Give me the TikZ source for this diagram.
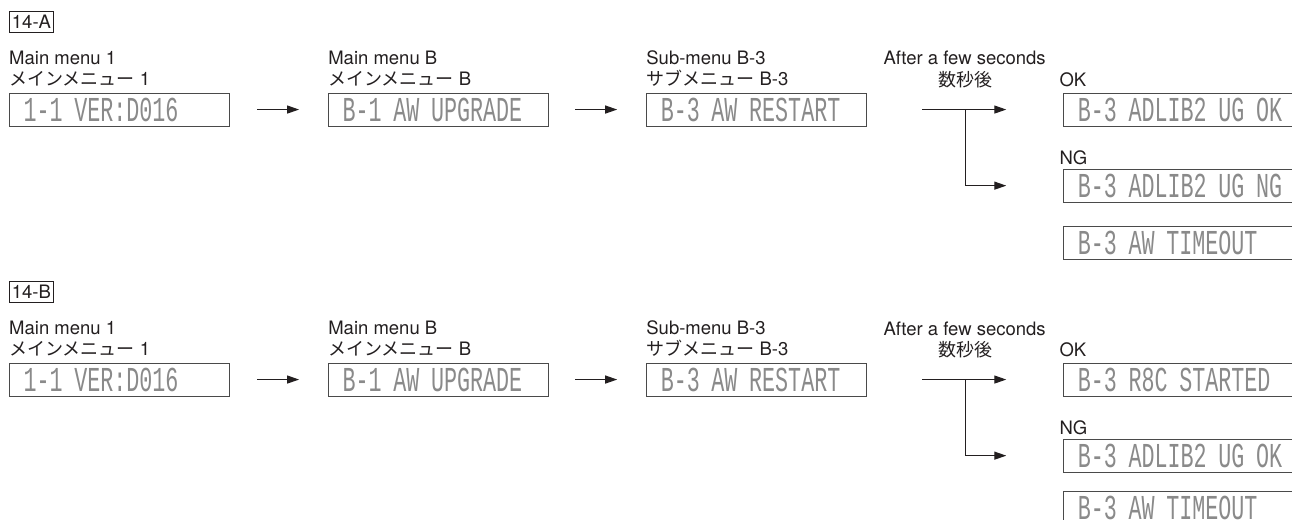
\documentclass[tikz,border=0pt]{standalone}
\usepackage{fontspec}
\setmainfont{TeX Gyre Heros}
\newfontfamily\jpfont{Noto Sans CJK JP}
\newfontfamily\lcdfont[FakeStretch=0.62]{Liberation Mono}
\usetikzlibrary{arrows.meta,positioning}
\definecolor{ink}{HTML}{231F20}
\definecolor{lcdgray}{HTML}{8A8A8A}
\definecolor{frame}{HTML}{4A4A4A}
\newcommand\jptext[1]{{\jpfont\fontsize{18}{20}\selectfont #1}}

\begin{document}
\begin{tikzpicture}[
  x=1pt,y=1pt,
  font=\fontsize{18.5}{20}\selectfont,
  tag/.style={draw=ink,line width=.9pt,inner sep=0pt,minimum width=44pt,
              minimum height=21pt,anchor=north west,text=ink},
  caption/.style={anchor=base west,inner sep=0pt,text=ink},
  display/.style={draw=frame,line width=1.1pt,anchor=north west,inner xsep=0pt,
                  inner ysep=0pt,minimum height=33pt,text width=220pt,align=left,
                  execute at begin node={\hspace*{14pt}},
                  text=lcdgray,font=\lcdfont\fontsize{35}{33}\selectfont},
  wide/.style={text width=229pt},
  arrow/.style={-{Triangle[length=12pt,width=8pt]},line width=1.2pt,draw=ink}
]
\useasboundingbox (0,0) rectangle (1292,-519);
% ---- 14-A
\node[tag] (tagA) at (9,-11) {14-A};
\node[display] (dispA1) at (9,-92.5) {1-1 VER:D016};
\node[display,right=98pt of dispA1] (dispA2) {B-1 AW UPGRADE};
\node[display,right=97pt of dispA2] (dispA3) {B-3 AW RESTART};
\node[display,wide,right=196pt of dispA3] (okA) {B-3 ADLIB2 UG OK};
\node[display,wide,below=42pt of okA] (ngA) {B-3 ADLIB2 UG NG};
\node[display,wide,below=23pt of ngA] (toA) {B-3 AW TIMEOUT};
\node[caption] (menuA1) at ([yshift=28.5pt]dispA1.north west) {Main menu 1};
\node[caption] (menuA1jp) at ([yshift=7.5pt]dispA1.north west) {\jptext{メインメニュー} 1};
\node[caption] (menuA2) at ([yshift=28.5pt]dispA2.north west) {Main menu B};
\node[caption] (menuA2jp) at ([yshift=7.5pt]dispA2.north west) {\jptext{メインメニュー} B};
\node[caption] (menuA3) at ([yshift=28.5pt]dispA3.north west) {Sub-menu B-3};
\node[caption] (menuA3jp) at ([yshift=7.5pt]dispA3.north west) {\jptext{サブメニュー} B-3};
\coordinate (forkA) at ([xshift=98pt]dispA3.east);
\node[caption] (waitA) at ([xshift=16pt,yshift=27.5pt]dispA3.north east) {After a few seconds};
\node[caption,anchor=base] (waitAjp) at ([yshift=23.5pt]forkA) {\jptext{数秒後}};
\node[caption] (okLabelA) at ([xshift=-4pt,yshift=6pt]okA.north west) {OK};
\node[caption] (ngLabelA) at ([xshift=-4pt,yshift=4pt]ngA.north west) {NG};
\draw[arrow] ([xshift=27pt]dispA1.east) -- ([xshift=-29pt]dispA2.west);
\draw[arrow] ([xshift=26pt]dispA2.east) -- ([xshift=-29pt]dispA3.west);
\draw[arrow] ([xshift=55pt]dispA3.east) -- ([xshift=-57pt]okA.west);
\draw[arrow] (forkA) |- ([xshift=-57pt]ngA.west);
% ---- 14-B
\node[tag] (tagB) at (9,-281) {14-B};
\node[display] (dispB1) at (9,-362.5) {1-1 VER:D016};
\node[display,right=98pt of dispB1] (dispB2) {B-1 AW UPGRADE};
\node[display,right=97pt of dispB2] (dispB3) {B-3 AW RESTART};
\node[display,wide,right=196pt of dispB3] (okB) {B-3 R8C STARTED};
\node[display,wide,below=42pt of okB] (ngB) {B-3 ADLIB2 UG OK};
\node[display,wide,below=18pt of ngB] (toB) {B-3 AW TIMEOUT};
\node[caption] (menuB1) at ([yshift=28.5pt]dispB1.north west) {Main menu 1};
\node[caption] (menuB1jp) at ([yshift=7.5pt]dispB1.north west) {\jptext{メインメニュー} 1};
\node[caption] (menuB2) at ([yshift=28.5pt]dispB2.north west) {Main menu B};
\node[caption] (menuB2jp) at ([yshift=7.5pt]dispB2.north west) {\jptext{メインメニュー} B};
\node[caption] (menuB3) at ([yshift=28.5pt]dispB3.north west) {Sub-menu B-3};
\node[caption] (menuB3jp) at ([yshift=7.5pt]dispB3.north west) {\jptext{サブメニュー} B-3};
\coordinate (forkB) at ([xshift=98pt]dispB3.east);
\node[caption] (waitB) at ([xshift=16pt,yshift=27.5pt]dispB3.north east) {After a few seconds};
\node[caption,anchor=base] (waitBjp) at ([yshift=23.5pt]forkB) {\jptext{数秒後}};
\node[caption] (okLabelB) at ([xshift=-4pt,yshift=6pt]okB.north west) {OK};
\node[caption] (ngLabelB) at ([xshift=-4pt,yshift=4pt]ngB.north west) {NG};
\draw[arrow] ([xshift=27pt]dispB1.east) -- ([xshift=-29pt]dispB2.west);
\draw[arrow] ([xshift=26pt]dispB2.east) -- ([xshift=-29pt]dispB3.west);
\draw[arrow] ([xshift=55pt]dispB3.east) -- ([xshift=-57pt]okB.west);
\draw[arrow] (forkB) |- ([xshift=-57pt]ngB.west);
\end{tikzpicture}
\end{document}
